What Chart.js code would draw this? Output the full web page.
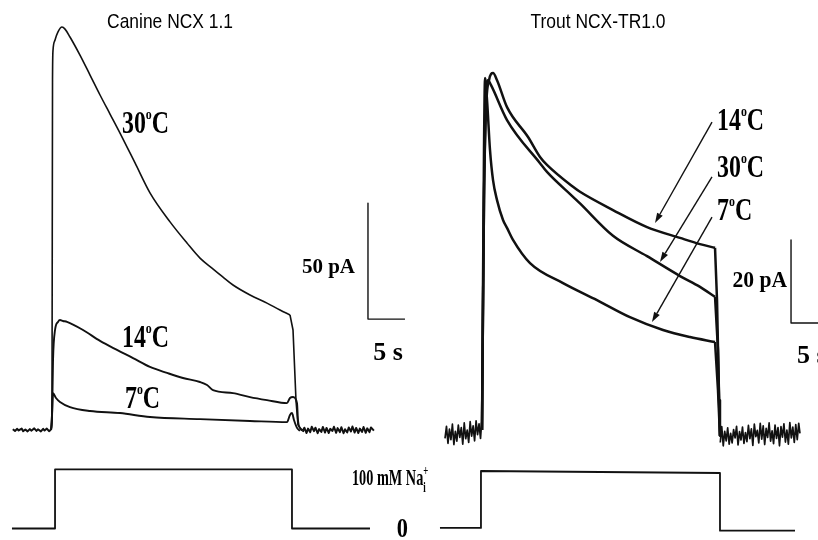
<!DOCTYPE html>
<html><head><meta charset="utf-8">
<script src="https://cdn.jsdelivr.net/npm/chart.js@4.4.1/dist/chart.umd.min.js"></script>
<style>html,body{margin:0;padding:0;background:#fff;}canvas{display:block;}</style>
</head><body>
<canvas id="c" width="818" height="540"></canvas>
<script>
// ===== DATA (time in s, current in pA, [Na+]i in mM) =====
// Canine NCX 1.1
const canine30 = [[4.9,0],[5.0,12.9],[5.07,151],[5.14,163.8],[5.41,168.1],[5.81,171.6],[6.35,173.7],[6.76,172.8],[7.43,169.4],[8.78,161.6],[10.14,153.0],[11.49,144.4],[12.84,136.2],[14.19,128.0],[16.22,115.1],[18.24,102.2],[20.95,89.7],[23.24,80.6],[25.0,74.1],[26.62,69.8],[28.11,65.9],[29.46,62.5],[31.76,58.2],[34.05,54.7],[35.81,51.7],[37.16,49.6],[37.57,43.1],[37.97,12.9],[38.24,2.2],[38.78,-0.4]];
const canine14 = [[4.86,0],[5.0,4.3],[5.14,30.2],[5.41,43.1],[5.81,46.6],[6.08,47.4],[6.49,47.0],[7.03,46.6],[9.19,43.1],[11.49,38.4],[13.78,34.5],[15.95,31.0],[18.24,27.2],[20.54,24.6],[22.7,22.4],[25.0,20.7],[25.95,19.4],[26.76,17.2],[29.46,15.9],[31.76,14.2],[34.05,12.9],[36.76,11.6],[37.16,13.8],[37.57,14.2],[38.11,11.6],[38.24,4.3],[38.51,0.9],[38.92,0]];
const canine7 = [[4.86,0],[5.0,6.5],[5.14,15.9],[5.54,13.8],[6.08,12.1],[7.43,9.9],[10.14,8.2],[14.19,7.3],[18.24,5.6],[25.0,4.7],[31.76,3.9],[36.76,3.4],[37.16,6.5],[37.43,7.3],[37.7,4.3],[38.11,0.9],[38.51,-0.4]];
const canineBasePre = [[-0.3,0.3],[0.0,-0.4],[0.3,0.5],[0.5,-0.2],[0.9,0.6],[1.1,-0.5],[1.4,0.2],[1.7,-0.6],[2.0,0.4],[2.2,-0.3],[2.6,0.7],[2.9,-0.4],[3.1,0.3],[3.5,-0.6],[3.8,0.5],[4.0,-0.2],[4.3,0.6],[4.6,-0.5],[4.86,0.1]];
const canineBasePost = [[38.9,-0.8],[39.1,1.0],[39.4,-1.3],[39.6,0.6],[39.9,-0.9],[40.1,1.4],[40.4,-0.5],[40.6,1.0],[40.9,-1.4],[41.1,0.4],[41.4,-0.8],[41.6,1.3],[41.9,-1.1],[42.1,0.9],[42.4,-1.3],[42.6,0.5],[42.9,-0.4],[43.1,1.4],[43.4,-1.2],[43.6,0.8],[43.9,-0.9],[44.1,1.2],[44.4,-1.4],[44.6,0.3],[44.9,-1.0],[45.1,1.1],[45.4,-0.6],[45.6,1.5],[45.9,-1.1],[46.1,0.9],[46.4,-1.3],[46.6,0.6],[46.9,-0.8],[47.1,1.3],[47.4,-1.2],[47.6,0.7],[47.9,-0.9],[48.1,1.1],[48.5,-0.3]];
const canineNa = [[-0.41,0],[5.41,0],[5.41,101],[37.43,101],[37.43,0],[47.97,0]];
const canineBar = [[47.7,97.8],[47.7,47.8],[52.7,47.8]]; // 50 pA / 5 s

// Trout NCX-TR1.0
const trout14 = [[5.0,1.2],[5.27,56.6],[5.54,78.3],[5.95,85.5],[6.49,87.2],[7.03,85.5],[8.38,79.0],[11.22,71.8],[12.84,67.0],[13.78,65.1],[17.30,59.8],[18.24,58.6],[22.70,54.2],[27.30,50.1],[31.76,47.5],[34.46,46.0],[36.49,45.1],[36.76,32.5],[37.03,8.4],[37.16,-0.2]];
const trout30 = [[5.0,1.2],[5.27,56.6],[5.54,80.7],[5.81,85.5],[6.22,84.3],[8.38,75.9],[12.84,65.5],[13.78,63.4],[17.30,57.4],[18.24,55.8],[22.70,48.0],[27.30,43.1],[31.76,38.3],[34.46,35.7],[36.49,33.3],[36.89,20.5],[37.16,-0.2]];
const trout7 = [[5.0,1.2],[5.27,68.7],[5.41,86.0],[5.68,80.7],[6.08,68.7],[6.49,61.4],[7.03,56.6],[7.84,51.8],[8.38,49.9],[9.19,47.0],[11.49,41.4],[15.95,36.6],[20.54,32.5],[24.99,28.4],[29.46,25.3],[33.11,23.6],[36.49,22.4],[36.89,10.8],[37.16,-0.2]];
const troutBasePre = [[0.0,-0.8],[0.2,2.1],[0.4,-2.0],[0.6,1.4],[0.8,-1.1],[1.0,2.6],[1.2,-2.3],[1.4,0.9],[1.6,-1.5],[1.8,2.4],[2.0,-0.6],[2.2,1.8],[2.4,-2.2],[2.6,2.9],[2.8,-0.9],[3.0,1.2],[3.2,-1.8],[3.4,3.2],[3.6,-0.3],[3.8,2.2],[4.0,-1.4],[4.2,3.4],[4.4,0.1],[4.6,2.7],[4.8,-0.8],[4.95,3.0]];
const troutBasePost = [[37.2,-1.8],[37.4,2.0],[37.6,-2.6],[37.8,0.9],[38.0,-1.4],[38.2,1.7],[38.4,-2.2],[38.6,0.4],[38.8,-1.9],[39.0,1.3],[39.2,-0.7],[39.4,2.1],[39.6,-2.4],[39.8,0.8],[40.0,-1.2],[40.2,1.9],[40.4,-2.0],[40.6,0.6],[40.8,-1.6],[41.0,2.3],[41.2,-0.9],[41.4,1.5],[41.6,-2.5],[41.8,2.6],[42.0,-0.4],[42.2,1.1],[42.4,-1.9],[42.6,2.8],[42.8,-1.0],[43.0,2.2],[43.2,-2.3],[43.4,1.6],[43.6,-0.6],[43.8,2.9],[44.0,-1.5],[44.2,1.0],[44.4,-2.1],[44.6,2.4],[44.8,-0.8],[45.0,1.8],[45.2,-2.6],[45.4,2.0],[45.6,-0.5],[45.8,2.7],[46.0,-1.7],[46.2,1.2],[46.4,-2.2],[46.6,3.0],[46.8,-0.7],[47.0,1.9],[47.2,-1.8],[47.4,2.5],[47.6,-1.1],[47.8,2.8],[47.97,0.4]];
const troutNa = [[-0.68,0.9],[4.86,0.9],[4.86,98.3],[37.16,94.9],[37.16,-3.8],[47.3,-3.8]];
const troutBar = [[46.76,47.0],[46.76,27.0],[51.76,27.0]]; // 20 pA / 5 s
const troutArrows = [[[36.08,75.4],[28.38,51.1]],[[36.08,62.2],[29.05,41.7]],[[36.08,52.5],[27.97,27.2]]];

// time (s) at which each current starts its falling edge (end of Na pulse)
const canine30Off = 37.16;
const troutOff = 36.49;

// ===== LABELS =====
const SERIF = '"Liberation Serif","Times New Roman",serif';
const SANS = '"Liberation Sans",Arial,sans-serif';
const tempStyle = {size:31, fam:SERIF, w:'bold', sx:0.77, align:'left'};
const labels = [
  {xa:'xL', ya:'yL', at:[20.95,173.3], segs:[['Canine NCX 1.1',1,0]], st:{size:21,fam:SANS,w:'normal',sx:0.83,align:'center'}},
  {xa:'xR', ya:'yR', at:[20.68,98.1], segs:[['Trout NCX-TR1.0',1,0]], st:{size:21,fam:SANS,w:'normal',sx:0.83,align:'center'}},
  {xa:'xL', ya:'yL', at:[14.46,128.0], segs:[['30',1,0],['o',0.5,-0.45],['C',1,0]], st:tempStyle},
  {xa:'xL', ya:'yL', at:[14.46,35.8], segs:[['14',1,0],['o',0.5,-0.45],['C',1,0]], st:tempStyle},
  {xa:'xL', ya:'yL', at:[14.86,9.5], segs:[['7',1,0],['o',0.5,-0.45],['C',1,0]], st:tempStyle},
  {xa:'xR', ya:'yR', at:[36.76,73.5], segs:[['14',1,0],['o',0.5,-0.45],['C',1,0]], st:tempStyle},
  {xa:'xR', ya:'yR', at:[36.76,62.2], segs:[['30',1,0],['o',0.5,-0.45],['C',1,0]], st:tempStyle},
  {xa:'xR', ya:'yR', at:[36.76,51.8], segs:[['7',1,0],['o',0.5,-0.45],['C',1,0]], st:tempStyle},
  {xa:'xL', ya:'yL', at:[45.95,67.7], segs:[['50 pA',1,0]], st:{size:21,fam:SERIF,w:'bold',sx:1.0,align:'right'}},
  {xa:'xL', ya:'yL', at:[50.41,30.2], segs:[['5 s',1,0]], st:{size:26,fam:SERIF,w:'bold',sx:1.0,align:'center'}},
  {xa:'xR', ya:'yR', at:[46.22,35.7], segs:[['20 pA',1,0]], st:{size:24,fam:SERIF,w:'bold',sx:0.9,align:'right'}},
  {xa:'xR', ya:'yR', at:[47.57,17.3], segs:[['5 s',1,0]], st:{size:26,fam:SERIF,w:'bold',sx:1.0,align:'left'}},
  {xa:'xL', ya:'yP', at:[45.54,74.4], segs:[['100 mM Na',1,0],['i',0.62,0.3,true],['+',0.62,-0.42]], st:{size:23,fam:SERIF,w:'bold',sx:0.62,align:'left'}},
  {xa:'xL', ya:'yP', at:[51.6,-14.5], segs:[['0',1,0]], st:{size:28,fam:SERIF,w:'bold',sx:0.8,align:'left'}}
];

// ===== CHART =====
const pts = a => a.map(p => ({x:p[0], y:p[1]}));
function ds(data, xa, ya, w, smooth){
  return {data:pts(data), xAxisID:xa, yAxisID:ya, showLine:true, borderColor:'#111', borderWidth:w,
          pointRadius:0, pointHoverRadius:0, fill:false, tension:0,
          cubicInterpolationMode: smooth ? 'monotone' : 'default', borderJoinStyle:'round'};
}
// smooth decay up to the pulse end, straight falling edge afterwards
function trace(data, off, xa, ya, w){
  return [ds(data.filter(p => p[0] <= off), xa, ya, w, true), ds(data.filter(p => p[0] >= off), xa, ya, w, false)];
}
function drawRich(ctx, segs, x, y, st){
  ctx.save();
  ctx.translate(x, y);
  ctx.scale(st.sx, 1);
  ctx.fillStyle = '#000';
  ctx.textBaseline = 'alphabetic';
  ctx.textAlign = 'left';
  const widths = segs.map(s => { ctx.font = `${st.w} ${st.size*s[1]}px ${st.fam}`; return ctx.measureText(s[0]).width; });
  let total = 0;
  segs.forEach((s,i) => { if (!s[3]) total += widths[i]; });
  let cx = st.align === 'center' ? -total/2 : st.align === 'right' ? -total : 0;
  segs.forEach((s,i) => {
    ctx.font = `${st.w} ${st.size*s[1]}px ${st.fam}`;
    ctx.fillText(s[0], cx, s[2]*st.size);
    if (!s[3]) cx += widths[i];
  });
  ctx.restore();
}
const annot = {
  id:'annot',
  afterDatasetsDraw(chart){
    const ctx = chart.ctx, S = chart.scales;
    ctx.save();
    ctx.strokeStyle = '#111'; ctx.fillStyle = '#111'; ctx.lineWidth = 1.4;
    troutArrows.forEach(a => {
      const x0 = S.xR.getPixelForValue(a[0][0]), y0 = S.yR.getPixelForValue(a[0][1]);
      const x1 = S.xR.getPixelForValue(a[1][0]), y1 = S.yR.getPixelForValue(a[1][1]);
      const ang = Math.atan2(y1-y0, x1-x0), L = 10, W = 3.2;
      const bx = x1 - L*Math.cos(ang), by = y1 - L*Math.sin(ang);
      ctx.beginPath(); ctx.moveTo(x0,y0); ctx.lineTo(bx,by); ctx.stroke();
      ctx.beginPath(); ctx.moveTo(x1,y1);
      ctx.lineTo(bx + W*Math.sin(ang), by - W*Math.cos(ang));
      ctx.lineTo(bx - W*Math.sin(ang), by + W*Math.cos(ang));
      ctx.closePath(); ctx.fill();
    });
    ctx.restore();
    labels.forEach(l => {
      drawRich(ctx, l.segs, S[l.xa].getPixelForValue(l.at[0]), S[l.ya].getPixelForValue(l.at[1]), l.st);
    });
  }
};
new Chart(document.getElementById('c'), {
  type:'scatter',
  data:{datasets:[
    ds(canineBasePre,'xL','yL',2.0), ds(canineBasePost,'xL','yL',2.0),
    ...trace(canine30, canine30Off, 'xL','yL',1.6),
    ds(canine14,'xL','yL',1.9,true), ds(canine7,'xL','yL',1.9,true),
    ds(canineNa,'xL','yP',1.8), ds(canineBar,'xL','yL',1.4),
    ds(troutBasePre,'xR','yR',1.7), ds(troutBasePost,'xR','yR',1.7),
    ...trace(trout14, troutOff, 'xR','yR',2.5),
    ...trace(trout30, troutOff, 'xR','yR',2.5),
    ...trace(trout7, troutOff, 'xR','yR',2.5),
    ds(troutNa,'xR','yP',1.8), ds(troutBar,'xR','yR',1.4)
  ]},
  options:{
    responsive:false, animation:false, events:[],
    layout:{padding:0},
    plugins:{legend:{display:false}, tooltip:{enabled:false}, title:{display:false}},
    scales:{
      xL:{type:'linear', axis:'x', display:false, min:-2.027, max:108.514},
      yL:{type:'linear', axis:'y', display:false, min:-47.414, max:185.345},
      xR:{type:'linear', axis:'x', display:false, min:-60.135, max:50.405},
      yR:{type:'linear', axis:'y', display:false, min:-25.301, max:104.819},
      yP:{type:'linear', axis:'y', display:false, min:-19.658, max:903.419}
    }
  },
  plugins:[annot]
});
</script>
</body></html>
